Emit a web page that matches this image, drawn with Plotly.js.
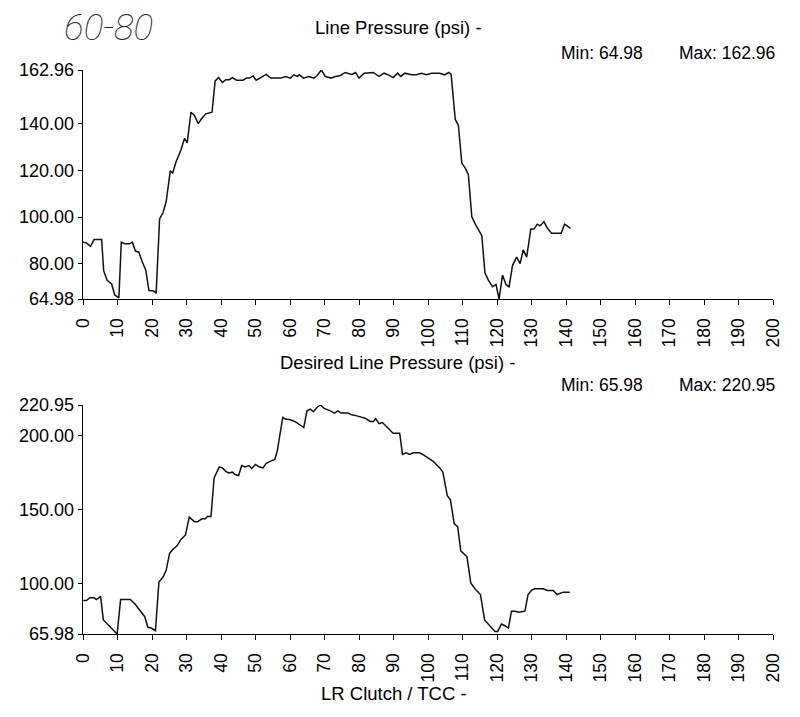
<!DOCTYPE html>
<html>
<head>
<meta charset="utf-8">
<script src="https://cdn.plot.ly/plotly-3.0.1.min.js"></script>
<style>html,body{margin:0;padding:0;background:#fff;}#chart{width:800px;height:717px;}</style>
</head>
<body>
<div id="chart"></div>
<script>
// Line Pressure (psi)
const lpX = [0,1,2.2,3.2,5.4,6,7,8.3,9.2,10.4,11.1,12.1,13.5,14.3,15.2,16.2,17.2,18.2,19.1,20.3,21.2,22.2,23.2,24.1,25.3,26,27,28.4,29.4,30.2,31.3,32.3,33.4,34.5,35.6,37.4,38.3,39.3,40.4,41.4,42.4,43.3,44.5,46.4,47.4,48.3,49.3,50.2,51.5,53.1,54.4,57.3,58.7,60.1,61.1,62.1,62.7,63.9,65.4,66.9,67.8,69.1,70.2,71.9,73.1,74.5,76,77.9,79,80,81.5,84.1,85.8,87.3,88.5,89.9,91.2,92.1,93.3,95.2,96.6,98.1,99.5,101,103.4,104.8,106,106.7,107.9,108.8,109.8,110.8,111.7,112.7,113.7,114.6,115.6,116.5,117.5,118.7,119.7,120.6,121.6,122.6,123.5,124.5,125.7,126.7,127.6,128.6,129.8,130.7,131.7,132.5,133.6,134.6,135.8,138.6,139.6,141.3];
const lpY = [89.3,89,87.5,90.4,90.4,77,73,71.4,66.7,65.5,89.3,88.6,88.6,89.3,85.5,85,80.8,77.3,68.6,68.5,67.5,99.2,102,106.6,119.8,118.9,123.8,128.7,133.7,131.8,144.9,143.5,140,142.4,144.2,144.9,158.3,159.7,157.6,158.8,158.8,159.7,158.6,158.6,159.5,159.5,160.4,158.6,159.7,161.1,159.5,159.5,160.2,159.5,160.9,160.2,160.9,159.5,160.2,159.5,160.5,162.96,160.2,159.5,160.2,160.5,161.9,161.1,161.9,159.5,161.6,161.9,160.2,161.6,160.9,159.7,161.6,160.2,161.6,160.9,160.9,161.6,160.9,161.6,161.6,160.9,161.9,161.1,141.8,139.3,123.1,121,118.2,100.1,97,94.9,92.1,76.2,73.1,70.2,71.2,64.98,75.2,71.2,70.2,79.4,82.9,80.1,86,82.9,94.9,94.9,97,96.3,98,95.3,93.1,93.1,97,95.2];

// Desired Line Pressure (psi)
const dlpX = [0.1,1,2,3.2,3.9,5.1,5.9,7,8.3,9.2,9.9,10.9,12.1,13.7,15,16.2,17.9,18.8,19.8,21,22,23.2,24.1,25.1,26,27.2,28.4,29.7,30.8,32.3,33.2,34.5,35.4,36.1,37.1,38,39.5,40.4,41.4,42.2,43.3,44.1,45.1,46,47,48.1,48.9,50,51,52.2,53.1,54.4,55.6,56.3,57,57.9,58.7,60.1,61.6,63,64,64.9,65.9,66.8,67.8,68.8,69.9,71.7,72.9,73.9,74.8,76.8,77.9,79.4,80.8,82,83.2,84.2,84.8,85.8,86.8,88,88.9,89.9,91.8,92.6,93.6,94.7,95.7,97.6,98.8,100.2,101.4,102.4,103.4,104.3,105.6,106.5,107.6,108.6,109.5,111.3,112.4,113.6,115.2,116.4,117.5,118.5,119.4,120.2,121.3,122.3,123.3,124.2,125.2,126.4,128.1,129,130,130.9,133.4,134.6,136.3,137.4,139.2,141.1];
const dlpY = [88.6,88.6,90.5,90.5,89.3,91.4,75.5,72.7,70,67.7,65.98,89.3,89.3,89.3,86.4,83,77.7,70.5,70,68.2,101.1,104.5,109.1,120.5,123.2,125.5,130,133,145,142,142,143.9,143.9,145.5,145.5,171.6,179.1,178.4,176.1,175,175.5,173.9,173.2,180,179.1,180,178,180.7,179.1,178.4,181.4,183,184.1,189.8,198.9,212.5,211.4,211,209.5,207.3,205.7,217,218.2,216.4,219.3,220.95,218.6,217,215.5,217,215.5,215.5,214.3,213.6,212.9,211.8,209.8,209.8,211.8,208.4,209.1,206.4,204.5,201.8,201.8,187.5,188.6,187.5,188.6,188.6,187,184.8,183,180.7,178.4,175.5,159.5,156.8,140.5,138.6,122.3,118.2,100.5,96.6,92.7,75.5,72.7,70,67.7,67.7,72.7,71.6,70,81.4,81.4,80.7,81.4,92.7,95.5,96.6,96.6,95.5,95.5,92.7,94.3,94.3];

// ticks and labels
const xTicks = [0,10,20,30,40,50,60,70,80,90,100,110,120,130,140,150,160,170,180,190,200];
const lpTicks = [64.98,80,100,120,140,162.96];
const dlpTicks = [65.98,100,150,200,220.95];
const topTitle = "Line Pressure (psi) -";
const topMin = "Min: 64.98";
const topMax = "Max: 162.96";
const midTitle = "Desired Line Pressure (psi) -";
const botMin = "Min: 65.98";
const botMax = "Max: 220.95";
const botTitle = "LR Clutch / TCC -";
const note = "60-80";

const W = 800, H = 717;
const px = v => v / W;
const py = v => 1 - v / H;
const FONT = "Liberation Sans, Arial, sans-serif";

const lineStyle = {color: "#111", width: 1.5};
const traces = [
  {x: lpX, y: lpY, type: "scatter", mode: "lines", line: lineStyle, xaxis: "x", yaxis: "y", hoverinfo: "skip"},
  {x: dlpX, y: dlpY, type: "scatter", mode: "lines", line: lineStyle, xaxis: "x2", yaxis: "y2", hoverinfo: "skip"}
];

function xAxis(anchor) {
  return {
    domain: [px(83), px(773)], anchor: anchor, range: [0, 200],
    tickmode: "array", tickvals: xTicks, ticktext: xTicks.map(String),
    tickangle: -90, ticks: "outside", ticklen: 5, tickcolor: "#000", tickwidth: 1,
    ticklabelstandoff: 6,
    showline: true, linecolor: "#000", linewidth: 1.3, showgrid: false, zeroline: false,
    tickfont: {family: FONT, size: 17.5, color: "#000"}, fixedrange: true
  };
}
function yAxis(anchor, domain, range, ticks) {
  return {
    domain: domain, anchor: anchor, range: range,
    tickmode: "array", tickvals: ticks, ticktext: ticks.map(v => v.toFixed(2)),
    ticks: "outside", ticklen: 4, tickcolor: "#000", tickwidth: 1,
    showline: true, linecolor: "#000", linewidth: 1.3, showgrid: false, zeroline: false,
    tickfont: {family: FONT, size: 18, color: "#000"}, fixedrange: true
  };
}

const ann = (text, x, y, xanchor, size) => ({
  text: text, xref: "paper", yref: "paper", x: px(x), y: py(y),
  xanchor: xanchor, yanchor: "middle", showarrow: false,
  font: {family: FONT, size: size || 18.5, color: "#000"}
});

const layout = {
  width: W, height: H,
  margin: {l: 0, r: 0, t: 0, b: 0},
  paper_bgcolor: "#fff", plot_bgcolor: "#fff",
  showlegend: false,
  xaxis: xAxis("y"),
  yaxis: yAxis("x", [py(299), py(70)], [64.98, 162.96], lpTicks),
  xaxis2: xAxis("y2"),
  yaxis2: yAxis("x2", [py(634), py(405)], [65.98, 220.95], dlpTicks),
  annotations: [
    ann(topTitle, 398, 28, "center"),
    ann(topMin, 559, 53, "left", 17.5),
    ann(topMax, 777, 53, "right", 17.5),
    ann(midTitle, 397, 362, "center"),
    ann(botMin, 559, 385, "left", 17.5),
    ann(botMax, 777, 385, "right", 17.5),
    ann(botTitle, 394, 693, "center"),
    {text: "<i>" + note + "</i>", xref: "paper", yref: "paper", x: px(62), y: py(27),
     xanchor: "left", yanchor: "middle", showarrow: false,
     font: {family: "Roboto, DejaVu Sans, sans-serif", size: 37, weight: 100, color: "#222"}}
  ]
};

Plotly.newPlot("chart", traces, layout, {displayModeBar: false, staticPlot: true});
</script>
</body>
</html>
